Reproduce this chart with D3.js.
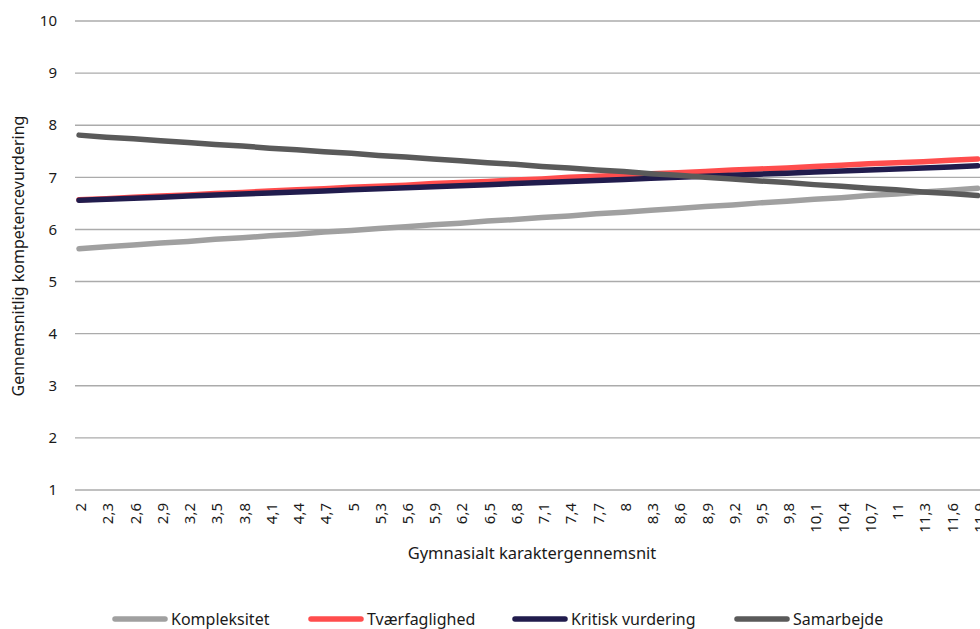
<!DOCTYPE html>
<html>
<head>
<meta charset="utf-8">
<script src="https://cdn.jsdelivr.net/npm/d3@7"></script>
<style>
body{margin:0;background:#fff;}
text{font-family:"Source Sans Pro","Noto Sans",sans-serif;fill:#1a1a1a;}
.grid line{stroke:#ababab;stroke-width:1.4;}
</style>
</head>
<body>
<script>
var width=980,height=629;

// x categories (gymnasialt karaktergennemsnit)
var categories = ["2","2,3","2,6","2,9","3,2","3,5","3,8","4,1","4,4","4,7","5","5,3","5,6","5,9","6,2","6,5","6,8","7,1","7,4","7,7","8","8,3","8,6","8,9","9,2","9,5","9,8","10,1","10,4","10,7","11","11,3","11,6","11,9"];

var kompleksitet = [5.63,5.67,5.70,5.74,5.77,5.81,5.84,5.88,5.91,5.95,5.98,6.02,6.05,6.09,6.12,6.16,6.19,6.23,6.26,6.30,6.33,6.37,6.40,6.44,6.47,6.51,6.54,6.58,6.61,6.65,6.68,6.72,6.75,6.79];
var tvaerfaglighed = [6.57,6.59,6.62,6.64,6.66,6.69,6.71,6.74,6.76,6.78,6.81,6.83,6.85,6.88,6.90,6.92,6.95,6.97,7.00,7.02,7.04,7.07,7.09,7.11,7.14,7.16,7.18,7.21,7.23,7.26,7.28,7.30,7.33,7.35];
var kritisk = [6.56,6.58,6.60,6.62,6.64,6.66,6.68,6.70,6.72,6.74,6.76,6.78,6.80,6.82,6.84,6.86,6.88,6.90,6.92,6.94,6.96,6.98,7.00,7.02,7.04,7.06,7.08,7.10,7.12,7.14,7.16,7.18,7.20,7.22];
var samarbejde = [7.81,7.77,7.74,7.70,7.67,7.63,7.60,7.56,7.53,7.49,7.46,7.42,7.39,7.35,7.32,7.28,7.25,7.21,7.18,7.14,7.11,7.07,7.04,7.00,6.97,6.93,6.90,6.86,6.83,6.79,6.76,6.72,6.69,6.65];

var seriesNames = ["Kompleksitet","Tværfaglighed","Kritisk vurdering","Samarbejde"];
var seriesValues = [kompleksitet,tvaerfaglighed,kritisk,samarbejde];
var seriesColors = ["#a0a0a0","#ff4d4d","#211c4d","#5a5a5a"];
var yTicks = [1,2,3,4,5,6,7,8,9,10];

var svg = d3.select("body").append("svg")
	.attr("width", width)
	.attr("height", height);

var x = d3.scalePoint().domain(categories).range([79, 977.6]);
var y = d3.scaleLinear().domain([1,10]).range([490, 21]);

// gridlines
svg.append("g").attr("class","grid")
	.selectAll("line").data(yTicks).enter().append("line")
	.attr("x1", 75).attr("x2", width)
	.attr("y1", function(d){return y(d);})
	.attr("y2", function(d){return y(d);});

// y axis labels
svg.append("g").selectAll("text").data(yTicks).enter().append("text")
	.attr("x", 57)
	.attr("y", function(d){return y(d);})
	.attr("dy", "0.35em")
	.attr("text-anchor", "end")
	.style("font-size", "15px")
	.text(function(d){return d;});

// x axis labels
svg.append("g").selectAll("text").data(categories).enter().append("text")
	.attr("transform", function(d){return "translate(" + (x(d)+2) + ",503) rotate(-90)";})
	.attr("dy", "0.35em")
	.attr("text-anchor", "end")
	.style("font-size", "15px")
	.text(function(d){return d;});

// axis titles
svg.append("text")
	.attr("transform", "translate(18,256) rotate(-90)")
	.attr("dy", "0.35em")
	.attr("text-anchor", "middle")
	.style("font-size", "16px")
	.text("Gennemsnitlig kompetencevurdering");

svg.append("text")
	.attr("x", 532).attr("y", 553)
	.attr("dy", "0.35em")
	.attr("text-anchor", "middle")
	.style("font-size", "16.5px")
	.text("Gymnasialt karaktergennemsnit");

// lines
var line = d3.line()
	.x(function(d,i){return x(categories[i]);})
	.y(function(d){return y(d);});

svg.append("g").selectAll("path").data(seriesValues).enter().append("path")
	.attr("d", line)
	.attr("fill", "none")
	.attr("stroke", function(d,i){return seriesColors[i];})
	.attr("stroke-width", 5.5)
	.attr("stroke-linecap", "round");

// legend
var legendX = [115, 311, 515, 737];
var legend = svg.append("g").selectAll("g").data(seriesNames).enter().append("g")
	.attr("transform", function(d,i){return "translate(" + legendX[i] + ",619)";});
legend.append("line")
	.attr("x1", 0).attr("x2", 50)
	.attr("stroke", function(d,i){return seriesColors[i];})
	.attr("stroke-width", 5.5)
	.attr("stroke-linecap", "round");
legend.append("text")
	.attr("x", 56)
	.attr("dy", "0.35em")
	.style("font-size", "16px")
	.text(function(d){return d;});
</script>
</body>
</html>
